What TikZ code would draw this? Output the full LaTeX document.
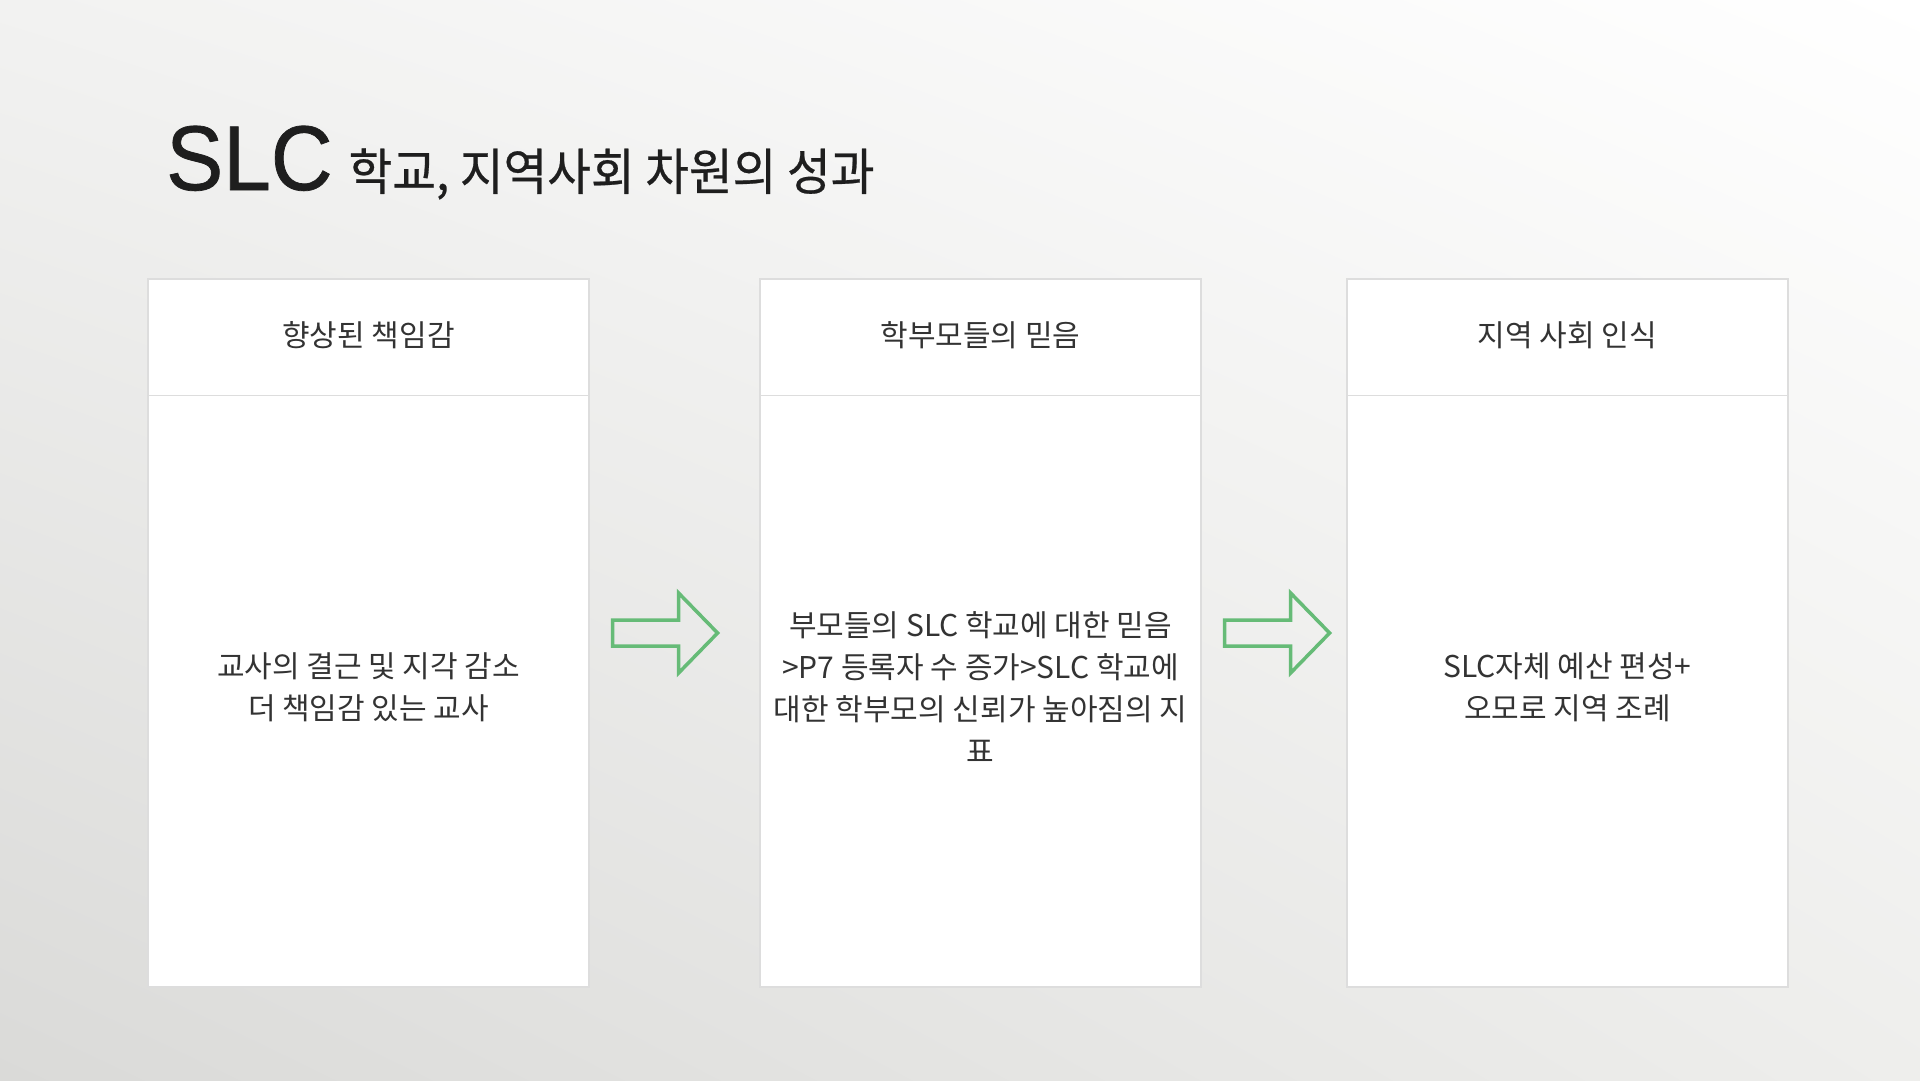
\documentclass[tikz,border=0pt]{standalone}
\usepackage{fontspec}
\setmainfont{Noto Sans CJK KR}
\newfontfamily\titlefont{Liberation Sans}[FakeStretch=0.93,FakeBold=0.8]
\newfontfamily\bodyfont{Noto Sans CJK KR}
\newfontfamily\headkofont{Noto Sans CJK KR}[FakeStretch=0.95,FakeBold=0.5]
\usetikzlibrary{positioning,shadings}
\definecolor{cardline}{HTML}{DDDDDD}
\definecolor{arrowgreen}{HTML}{66BB77}
\definecolor{inkgray}{HTML}{333333}
\definecolor{titleink}{HTML}{1E1E1E}
\definecolor{bgcorner}{HTML}{DADAD8}
\definecolor{bgside}{HTML}{EEEEEC}
\definecolor{bgtop}{HTML}{F2F2F1}

\tikzset{
  card/.style={draw=cardline, line width=1.2pt, fill=white, minimum width=441pt, minimum height=708pt, inner sep=0pt},
  cardhead/.style={font=\fontsize{30}{34}\selectfont, text=inkgray},
  cardbody/.style={font=\bodyfont\fontsize{30}{42}\selectfont, text=inkgray, align=center},
  blockarrow/.style={draw=arrowgreen, line width=3.5pt, line join=miter},
  pics/greenarrow/.style={code={
    \draw[blockarrow] (0,-13) -- (66,-13) -- (66,-40) -- (105,0) -- (66,40) -- (66,13) -- (0,13) -- cycle;
  }},
}

\begin{document}
\begin{tikzpicture}[x=1pt,y=-1pt]
\shade[upper left=bgtop, upper right=white, lower left=bgcorner, lower right=bgside] (0,0) rectangle (1920,1080);
\useasboundingbox (0,0) rectangle (1920,1080);

%Title
\node[anchor=base west, inner sep=0pt, text=titleink] (title) at (166,190)
  {{\titlefont\fontsize{92}{92}\selectfont SLC}\hspace{16pt}{\headkofont\fontsize{50}{50}\selectfont 학교, 지역사회 차원의 성과}};

%Card 1
\node[card] (card1) at (368.5,633) {};
\draw[cardline, line width=1.2pt] ([yshift=-117pt]card1.north west) -- ([yshift=-117pt]card1.north east);
\node[cardhead] (head1) at ([yshift=-57pt]card1.north) {향상된 책임감};
\node[cardbody] (body1) at ([yshift=-409pt]card1.north) {교사의 결근 및 지각 감소\\더 책임감 있는 교사};

%Card 2
\node[card] (card2) at (980.5,633) {};
\draw[cardline, line width=1.2pt] ([yshift=-117pt]card2.north west) -- ([yshift=-117pt]card2.north east);
\node[cardhead] (head2) at ([yshift=-57pt]card2.north) {학부모들의 믿음};
\node[cardbody] (body2) at ([yshift=-409pt]card2.north) {부모들의 SLC 학교에 대한 믿음\\>P7 등록자 수 증가>SLC 학교에\\대한 학부모의 신뢰가 높아짐의 지\\표};

%Card 3
\node[card] (card3) at (1567.5,633) {};
\draw[cardline, line width=1.2pt] ([yshift=-117pt]card3.north west) -- ([yshift=-117pt]card3.north east);
\node[cardhead] (head3) at ([yshift=-57pt]card3.north) {지역 사회 인식};
\node[cardbody] (body3) at ([yshift=-409pt]card3.north) {SLC자체 예산 편성+\\오모로 지역 조례};

%Arrows between cards
\pic at ([xshift=23pt]card1.east) {greenarrow};
\pic at ([xshift=23pt]card2.east) {greenarrow};
\end{tikzpicture}
\end{document}
